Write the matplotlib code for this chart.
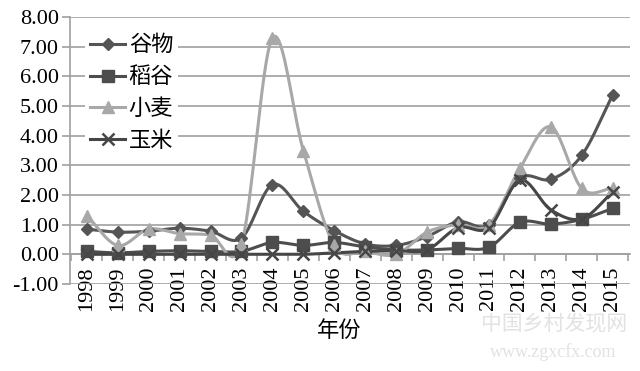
import numpy as np
import matplotlib.pyplot as plt

plt.rcParams['font.family'] = ['Liberation Serif', 'Noto Sans CJK SC']

years = ['1998', '1999', '2000', '2001', '2002', '2003', '2004', '2005', '2006',
         '2007', '2008', '2009', '2010', '2011', '2012', '2013', '2014', '2015']

cereal = [0.85, 0.75, 0.78, 0.88, 0.78, 0.55, 2.35, 1.45, 0.80,
          0.35, 0.30, 0.60, 1.10, 1.00, 2.57, 2.53, 3.34, 5.38]
rice = [0.10, 0.05, 0.10, 0.12, 0.10, 0.10, 0.40, 0.30, 0.40,
        0.25, 0.15, 0.15, 0.20, 0.24, 1.08, 1.02, 1.18, 1.55]
wheat = [1.30, 0.30, 0.85, 0.70, 0.65, 0.35, 7.30, 3.50, 0.30,
         0.10, 0.00, 0.75, 1.00, 1.00, 2.90, 4.30, 2.22, 2.22]
corn = [0.00, 0.00, 0.00, 0.00, 0.00, 0.00, 0.00, 0.00, 0.05,
        0.10, 0.12, 0.15, 0.90, 0.90, 2.50, 1.50, 1.20, 2.10]

yticks = [-1, 0, 1, 2, 3, 4, 5, 6, 7, 8]


def smooth(x, y, n=20):
    # catmull-rom curve through the points, like excel's smoothed line
    x = np.asarray(x, float)
    y = np.asarray(y, float)
    px = np.concatenate([[2 * x[0] - x[1]], x, [2 * x[-1] - x[-2]]])
    py = np.concatenate([[2 * y[0] - y[1]], y, [2 * y[-1] - y[-2]]])
    xs, ys = [], []
    t = np.linspace(0, 1, n, endpoint=False)
    for i in range(1, len(px) - 2):
        for p, out in ((px, xs), (py, ys)):
            p0, p1, p2, p3 = p[i - 1], p[i], p[i + 1], p[i + 2]
            out.extend(0.5 * (2 * p1 + (-p0 + p2) * t
                              + (2 * p0 - 5 * p1 + 4 * p2 - p3) * t ** 2
                              + (-p0 + 3 * p1 - 3 * p2 + p3) * t ** 3))
    xs.append(x[-1])
    ys.append(y[-1])
    return xs, ys


fig = plt.figure(figsize=(6.4, 3.71), dpi=100)
ax = fig.add_axes([0.109, 0.2345, 0.875, 0.7195])

# spine position first, it resets the ticks
ax.spines['top'].set_visible(False)
ax.spines['right'].set_visible(False)
ax.spines['bottom'].set_position(('data', 0))
for s in ('left', 'bottom'):
    ax.spines[s].set_color('#a0a0a0')
    ax.spines[s].set_linewidth(1.2)

x = np.arange(len(years))
series = [
    ('谷物', cereal, '#555555', 'D', 6),
    ('稻谷', rice, '#4d4d4d', 's', 8),
    ('小麦', wheat, '#a8a8a8', '^', 8),
    ('玉米', corn, '#464646', 'x', 8),
]
handles = []
for name, vals, col, mk, ms in series:
    sx, sy = smooth(x, vals)
    ax.plot(sx, sy, color=col, lw=2.2, solid_capstyle='round', zorder=3)
    ax.plot(x, vals, ls='none', marker=mk, ms=ms, color=col,
            mew=1.8 if mk == 'x' else 1, zorder=4)
    h, = ax.plot([], [], color=col, lw=2.2, marker=mk, ms=ms,
                 mew=1.8 if mk == 'x' else 1)
    handles.append(h)

ax.set_ylim(-1, 8)
ax.set_xlim(-0.55, 17.55)
ax.set_yticks(yticks)
ax.set_yticklabels(['%.2f' % v for v in yticks], fontsize=16)
ax.yaxis.grid(True, color='#a0a0a0', lw=1.2)
ax.set_axisbelow(True)

ax.set_xticks(x)
ax.set_xticklabels(years, rotation=90, fontsize=16)
ax.set_xticks(np.arange(-0.5, 18, 1), minor=True)
ax.tick_params(axis='x', which='major', length=0, pad=9)
ax.tick_params(axis='x', which='minor', length=5, color='#a0a0a0', width=1.2)
ax.tick_params(axis='y', length=6, color='#a0a0a0', width=1.2, pad=2)

fig.text(0.53, 0.11, '年份', fontsize=16, ha='center', va='center',
         family='Noto Sans CJK SC')

leg = ax.legend(handles, [s[0] for s in series], loc='upper left',
                bbox_to_anchor=(0.008, 0.997), frameon=True, fancybox=False,
                edgecolor='none', framealpha=1, handlelength=1.6,
                handletextpad=0.15, labelspacing=0.4, borderpad=0.2,
                prop={'family': 'Noto Sans CJK SC', 'size': 16})

fig.text(0.865, 0.125, '中国乡村发现网', fontsize=15, color='#e2e2e2',
         ha='center', va='center', family='Noto Sans CJK SC', zorder=0)
fig.text(0.865, 0.05, 'www.zgxcfx.com', fontsize=13, color='#e2e2e2',
         ha='center', va='center', zorder=0)

fig.savefig('out.png', dpi=100)
